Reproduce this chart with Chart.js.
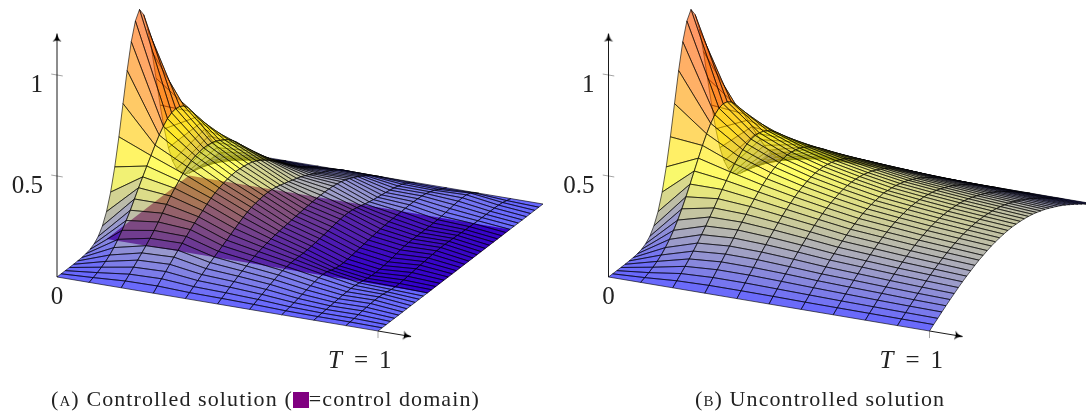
<!DOCTYPE html>
<html>
<head>
<meta charset="utf-8">
<script src="https://cdn.jsdelivr.net/npm/chart.js@4/dist/chart.umd.js"></script>
<style>
  html, body { margin: 0; padding: 0; background: #fff; width: 1086px; height: 411px; overflow: hidden; }
  canvas { position: absolute; top: 0; }
  #chartA { left: 0; }
  #chartB { left: 551px; }
  .caption { position: absolute; top: 387px; font: 22px "Liberation Serif", serif; letter-spacing: 1.1px; color: #222; white-space: nowrap; line-height: 24px; }
  .caption .tag { font-variant: small-caps; }
  .caption .swatch { display: inline-block; width: 16px; height: 16px; background: #800080; vertical-align: -2px; letter-spacing: 0; }
</style>
</head>
<body>
<canvas id="chartA" width="551" height="411"></canvas>
<canvas id="chartB" width="535" height="411"></canvas>
<div class="caption" style="left:51px"><span class="tag">(a)</span> Controlled solution (<span class="swatch"></span>=control domain)</div>
<div class="caption" style="left:695px"><span class="tag">(b)</span> Uncontrolled solution</div>
<script>
// time slices and number of space steps of the mesh
var tValues = [0, 0.1, 0.2, 0.3, 0.4, 0.5, 0.6, 0.7, 0.8, 0.9, 1];
var xSteps = 40;

// controlled solution, one list per time slice, x = 0 .. 1
var a_t00 = [0,0,0,0,0,.001,.002,.005,.011,.023,.044,.080,.135,.216,.325,.458,.607,.755,.882,.969,1.01,.969,.882,.755,.607,.458,.325,.216,.135,.080,.044,.023,.011,.005,.002,.001,0,0,0,0,0];
var a_t01 = [0,.008,.017,.028,.041,.057,.078,.103,.132,.165,.200,.240,.280,.318,.356,.392,.428,.462,.490,.512,.525,.530,.525,.512,.488,.452,.410,.365,.318,.270,.225,.180,.140,.105,.080,.058,.040,.026,.015,.007,0];
var a_t02 = [0,.018,.036,.055,.074,.094,.114,.135,.158,.184,.212,.240,.265,.288,.310,.330,.348,.362,.370,.375,.378,.376,.372,.365,.352,.340,.325,.305,.280,.252,.222,.192,.165,.138,.112,.090,.068,.050,.033,.016,0];
var a_t03 = [0,.020,.040,.060,.080,.100,.118,.137,.155,.173,.190,.205,.220,.236,.250,.261,.270,.277,.283,.286,.288,.286,.283,.279,.272,.262,.250,.235,.218,.198,.178,.157,.136,.115,.095,.077,.060,.044,.029,.014,0];
var a_t04 = [0,.014,.028,.042,.056,.070,.084,.096,.108,.120,.132,.145,.158,.170,.182,.192,.200,.205,.209,.211,.212,.210,.206,.200,.193,.186,.178,.171,.163,.153,.142,.130,.118,.105,.093,.082,.070,.056,.040,.020,0];
var a_t05 = [0,.012,.024,.036,.048,.059,.069,.078,.087,.095,.102,.108,.113,.118,.122,.125,.128,.130,.133,.136,.138,.140,.142,.144,.145,.146,.146,.145,.143,.139,.134,.127,.118,.107,.096,.083,.069,.054,.037,.019,0];
var a_t06 = [0,.009,.018,.027,.036,.045,.053,.060,.066,.070,.073,.074,.074,.074,.075,.077,.080,.083,.086,.090,.094,.098,.101,.103,.103,.100,.095,.089,.082,.077,.072,.068,.064,.060,.056,.051,.045,.038,.028,.015,0];
var a_t07 = [0,.004,.008,.013,.018,.023,.029,.034,.038,.042,.043,.040,.032,.026,.022,.022,.024,.027,.030,.033,.036,.040,.043,.046,.048,.050,.052,.053,.054,.055,.056,.057,.057,.056,.054,.050,.043,.035,.024,.012,0];
var a_t08 = [0,.002,.004,.006,.008,.010,.012,.014,.015,.016,.015,.012,.007,.003,.001,0,.001,.003,.006,.010,.014,.018,.021,.023,.024,.024,.024,.024,.024,.025,.026,.028,.031,.034,.037,.039,.040,.039,.032,.017,0];
var a_t09 = [0,.002,.004,.007,.010,.012,.015,.016,.016,.014,.010,.006,.004,.004,.006,.008,.011,.014,.016,.018,.020,.022,.024,.025,.025,.024,.023,.022,.020,.019,.018,.017,.016,.016,.016,.016,.016,.015,.012,.006,0];
var a_t10 = [0,0,0,0,0,0,0,0,0,0,0,0,0,0,0,0,0,0,0,0,0,0,0,0,0,0,0,0,0,0,0,0,0,0,0,0,0,0,0,0,0];

// uncontrolled solution
var b_t00 = [0,0,0,0,0,.001,.002,.005,.011,.023,.044,.080,.135,.216,.325,.458,.607,.755,.882,.969,1.01,.969,.882,.755,.607,.458,.325,.216,.135,.080,.044,.023,.011,.005,.002,.001,0,0,0,0,0];
var b_t01 = [0,.008,.017,.028,.041,.057,.078,.103,.132,.167,.207,.251,.298,.347,.395,.442,.484,.520,.547,.564,.570,.564,.547,.520,.484,.442,.395,.347,.298,.251,.207,.167,.132,.103,.078,.057,.041,.028,.017,.008,0];
var b_t02 = [0,.019,.039,.059,.080,.103,.127,.153,.180,.209,.238,.268,.298,.326,.353,.378,.399,.416,.429,.437,.440,.437,.429,.416,.399,.378,.353,.326,.298,.268,.238,.209,.180,.153,.127,.103,.080,.059,.039,.019,0];
var b_t03 = [0,.023,.046,.069,.092,.115,.139,.163,.187,.210,.233,.256,.277,.297,.315,.331,.345,.356,.364,.368,.370,.368,.364,.356,.345,.331,.315,.297,.277,.256,.233,.210,.187,.163,.139,.115,.092,.069,.046,.023,0];
var b_t04 = [0,.023,.046,.069,.091,.114,.136,.157,.178,.198,.218,.236,.253,.268,.283,.295,.305,.313,.319,.323,.324,.323,.319,.313,.305,.295,.283,.268,.253,.236,.218,.198,.178,.157,.136,.114,.091,.069,.046,.023,0];
var b_t05 = [0,.022,.043,.065,.086,.106,.127,.147,.165,.183,.200,.216,.230,.243,.255,.265,.273,.280,.285,.288,.289,.288,.285,.280,.273,.265,.255,.243,.230,.216,.200,.183,.165,.147,.127,.106,.086,.065,.043,.022,0];
var b_t06 = [0,.020,.040,.060,.079,.097,.116,.134,.150,.166,.181,.195,.208,.219,.230,.239,.246,.252,.256,.258,.262,.258,.256,.252,.246,.239,.230,.219,.208,.195,.181,.166,.150,.134,.116,.097,.079,.060,.040,.020,0];
var b_t07 = [0,.019,.037,.056,.074,.092,.109,.126,.141,.156,.170,.183,.195,.205,.215,.223,.229,.234,.238,.240,.241,.240,.238,.234,.229,.223,.215,.205,.195,.183,.170,.156,.141,.126,.109,.092,.074,.056,.037,.019,0];
var b_t08 = [0,.018,.035,.052,.070,.086,.102,.118,.132,.146,.159,.171,.182,.192,.200,.208,.214,.219,.222,.224,.225,.224,.222,.219,.214,.208,.200,.192,.182,.171,.159,.146,.132,.118,.102,.086,.070,.052,.035,.018,0];
var b_t09 = [0,.017,.033,.049,.065,.081,.096,.111,.125,.138,.150,.161,.172,.181,.189,.196,.202,.206,.209,.211,.212,.211,.209,.206,.202,.196,.189,.181,.172,.161,.150,.138,.125,.111,.096,.081,.065,.049,.033,.017,0];
var b_t10 = [0,.016,.031,.047,.062,.077,.091,.105,.118,.130,.141,.152,.162,.170,.178,.185,.190,.194,.197,.199,.200,.199,.197,.194,.190,.185,.178,.170,.162,.152,.141,.130,.118,.105,.091,.077,.062,.047,.031,.016,0];

var rowsA = [a_t00, a_t01, a_t02, a_t03, a_t04, a_t05, a_t06, a_t07, a_t08, a_t09, a_t10];
var rowsB = [b_t00, b_t01, b_t02, b_t03, b_t04, b_t05, b_t06, b_t07, b_t08, b_t09, b_t10];

// control domain and axes
var controlX = [0.3, 0.8];
var controlT = [0, 1];
var zTicks = [0.5, 1];
var zTickLabels = ['0.5', '1'];
var zAxisTop = 1.205;
var tAxisEnd = 1.103;

// oblique view: (t, x, z) -> plot units
function project(p, t, x, z) {
  return { x: p.left + 321 * t + 165 * x, y: p.base + 54 * t - 127 * x - 202 * z };
}

// blue - yellow - orange - red
var colorStops = [[0, 0, 255], [255, 255, 0], [255, 128, 0], [255, 0, 0]];
function heat(z) {
  var v = Math.min(Math.max(z, 0), 1) * 3;
  var i = Math.min(Math.floor(v), 2);
  var f = v - i;
  var a = colorStops[i], b = colorStops[i + 1];
  return 'rgba(' + Math.round(a[0] + (b[0] - a[0]) * f) + ',' + Math.round(a[1] + (b[1] - a[1]) * f) + ',' + Math.round(a[2] + (b[2] - a[2]) * f) + ',0.6)';
}

// stealth arrow tip, tip sits at the centre of the little canvas
var arrow = document.createElement('canvas');
arrow.width = 24; arrow.height = 24;
(function () {
  var c = arrow.getContext('2d');
  c.fillStyle = '#000';
  c.beginPath();
  c.moveTo(12, 12);
  c.quadraticCurveTo(13, 17, 16.5, 20);
  c.quadraticCurveTo(12, 18, 7.5, 20);
  c.quadraticCurveTo(11, 17, 12, 12);
  c.fill();
})();

function lineSet(points, color, width) {
  return { data: points, showLine: true, fill: false, borderColor: color, borderWidth: width, pointRadius: 0 };
}

function buildDatasets(rows, p, withControl) {
  var back = [];   // listed in paint order, far cells first
  if (withControl) {
    back.push({
      data: [project(p, controlT[0], controlX[0], 0), project(p, controlT[1], controlX[0], 0),
             project(p, controlT[1], controlX[1], 0), project(p, controlT[0], controlX[1], 0),
             project(p, controlT[0], controlX[0], 0)],
      showLine: true, fill: 'shape', backgroundColor: '#800080', borderWidth: 0, pointRadius: 0
    });
  }
  for (var j = xSteps - 1; j >= 0; j--) {
    for (var i = 0; i < tValues.length - 1; i++) {
      var t0 = tValues[i], t1 = tValues[i + 1], x0 = j / xSteps, x1 = (j + 1) / xSteps;
      var z00 = rows[i][j], z01 = rows[i][j + 1], z10 = rows[i + 1][j], z11 = rows[i + 1][j + 1];
      back.push({
        data: [project(p, t0, x0, z00), project(p, t1, x0, z10), project(p, t1, x1, z11), project(p, t0, x1, z01), project(p, t0, x0, z00)],
        showLine: true, fill: 'shape', backgroundColor: heat((z00 + z01 + z10 + z11) / 4),
        borderColor: 'rgba(0,0,0,0.62)', borderWidth: 1, pointRadius: 0
      });
    }
  }
  // axes on top
  zTicks.forEach(function (z) {
    back.push(lineSet([project(p, -0.018, 0, z), project(p, 0.018, 0, z)], 'rgba(0,0,0,0.45)', 0.8));
  });
  back.push(lineSet([project(p, 1, 0, -0.035), project(p, 1, 0, 0)], 'rgba(0,0,0,0.45)', 0.8));
  back.push({ data: [project(p, 0, 0, 0), project(p, 0, 0, zAxisTop)], showLine: true, fill: false, borderColor: '#000', borderWidth: 0.9,
              pointStyle: arrow, pointRadius: [0, 1], pointRotation: [0, 0] });
  back.push({ data: [project(p, 1, 0, 0), project(p, tAxisEnd, 0, 0)], showLine: true, fill: false, borderColor: '#000', borderWidth: 0.9,
              pointStyle: arrow, pointRadius: [0, 1], pointRotation: [0, 99.5] });
  return back.reverse();   // Chart.js paints the last dataset first
}

var axisLabels = {
  id: 'axisLabels',
  afterDraw: function (chart, args, opts) {
    var c = chart.ctx, sx = chart.scales.x, sy = chart.scales.y, p = opts.view;
    c.save();
    c.fillStyle = '#222';
    c.font = '25px "Liberation Serif", serif';
    c.textBaseline = 'middle';
    c.textAlign = 'right';
    zTicks.forEach(function (z, i) {
      var q = project(p, 0, 0, z);
      c.fillText(zTickLabels[i], sx.getPixelForValue(q.x) - 14, sy.getPixelForValue(q.y) + 10);
    });
    var o = project(p, 0, 0, 0);
    c.textAlign = 'center';
    c.fillText('0', sx.getPixelForValue(o.x), sy.getPixelForValue(o.y) + 20);
    var e = project(p, 1, 0, 0);
    var ex = sx.getPixelForValue(e.x), ey = sy.getPixelForValue(e.y) + 30;
    c.textAlign = 'left';
    c.font = 'italic 25px "Liberation Serif", serif';
    c.fillText('T', ex - 50, ey);
    c.font = '25px "Liberation Serif", serif';
    c.fillText('=', ex - 24, ey);
    c.fillText('1', ex + 1, ey);
    c.restore();
  }
};

function makeChart(id, rows, view, withControl, width) {
  return new Chart(document.getElementById(id).getContext('2d'), {
    type: 'scatter',
    data: { datasets: buildDatasets(rows, view, withControl) },
    plugins: [axisLabels],
    options: {
      responsive: false,
      animation: false,
      events: [],
      layout: { padding: 0, autoPadding: false },
      elements: { line: { tension: 0 } },
      scales: {
        x: { type: 'linear', display: false, min: 0, max: width },
        y: { type: 'linear', display: false, min: 0, max: 411, reverse: true }
      },
      plugins: { legend: { display: false }, tooltip: { enabled: false }, axisLabels: { view: view } }
    }
  });
}

makeChart('chartA', rowsA, { left: 57, base: 277 }, true, 551);
makeChart('chartB', rowsB, { left: 57.5, base: 277 }, false, 535);
</script>
</body>
</html>
